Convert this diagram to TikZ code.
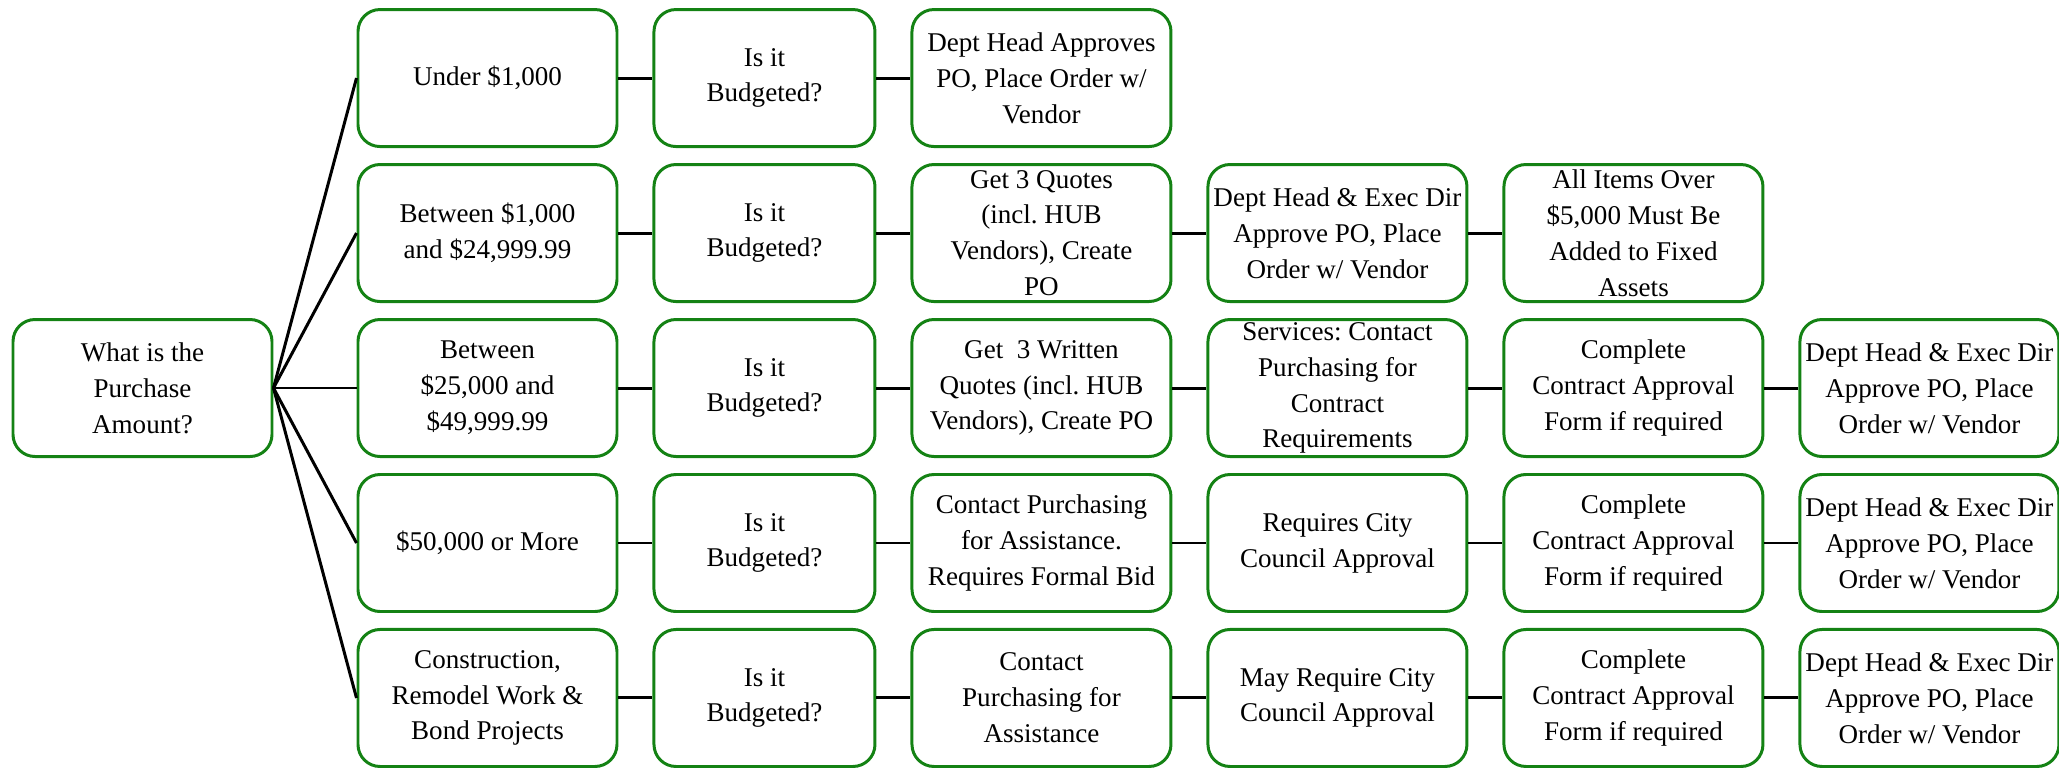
\documentclass[tikz,border=0pt]{standalone}
\usepackage{fontspec}
\setmainfont{Liberation Serif}
\usepackage{tikz}
\usetikzlibrary{positioning}
\definecolor{boxgreen}{RGB}{20,130,20}
\frenchspacing

\begin{document}
\begin{tikzpicture}[
    node distance=0.15cm and 0.34cm,  % gap between rows and between columns
    main/.style = {draw=boxgreen, line width=0.85pt, rounded corners=0.22cm,
                   minimum width=2.59cm, minimum height=1.37cm, inner sep=0pt,
                   align=center, font=\fontsize{7.7}{10.2}\selectfont},
    narrow/.style = {main, minimum width=2.21cm},
    link/.style = {line width=0.85pt},
    thinlink/.style = {line width=0.45pt}
  ]
    \useasboundingbox (0,0) rectangle (20.59,-7.70);
    \node[main] (amt) at (1.425,-3.88) {What is the\\Purchase\\Amount?};

    % amount ranges
    \node[main] (a3) [right=0.83cm of amt] {Between\\\$25,000 and\\\$49,999.99};
    \node[main] (a2) [above=of a3] {Between \$1,000\\and \$24,999.99};
    \node[main] (a1) [above=of a2] {Under \$1,000};
    \node[main] (a4) [below=of a3] {\$50,000 or More};
    \node[main] (a5) [below=of a4] {Construction,\\Remodel Work \&\\Bond Projects};

    % budget check
    \node[narrow] (b1) [right=of a1] {Is it\\Budgeted?};
    \node[narrow] (b2) [right=of a2] {Is it\\Budgeted?};
    \node[narrow] (b3) [right=of a3] {Is it\\Budgeted?};
    \node[narrow] (b4) [right=of a4] {Is it\\Budgeted?};
    \node[narrow] (b5) [right=of a5] {Is it\\Budgeted?};

    % row 1
    \node[main] (c1) [right=of b1] {Dept Head Approves\\PO, Place Order w/\\Vendor};
    % row 2
    \node[main] (c2) [right=of b2] {Get 3 Quotes\\(incl. HUB\\Vendors), Create\\PO};
    \node[main] (d2) [right=of c2] {Dept Head \& Exec Dir\\Approve PO, Place\\Order w/ Vendor};
    \node[main] (e2) [right=of d2] {All Items Over\\\$5,000 Must Be\\Added to Fixed\\Assets};
    % row 3
    \node[main] (c3) [right=of b3] {Get~ 3 Written\\Quotes (incl. HUB\\Vendors), Create PO};
    \node[main] (d3) [right=of c3] {Services: Contact\\Purchasing for\\Contract\\Requirements};
    \node[main] (e3) [right=of d3] {Complete\\Contract Approval\\Form if required};
    \node[main] (f3) [right=of e3] {Dept Head \& Exec Dir\\Approve PO, Place\\Order w/ Vendor};
    % row 4
    \node[main] (c4) [right=of b4] {Contact Purchasing\\for Assistance.\\Requires Formal Bid};
    \node[main] (d4) [right=of c4] {Requires City\\Council Approval};
    \node[main] (e4) [right=of d4] {Complete\\Contract Approval\\Form if required};
    \node[main] (f4) [right=of e4] {Dept Head \& Exec Dir\\Approve PO, Place\\Order w/ Vendor};
    % row 5
    \node[main] (c5) [right=of b5] {Contact\\Purchasing for\\Assistance};
    \node[main] (d5) [right=of c5] {May Require City\\Council Approval};
    \node[main] (e5) [right=of d5] {Complete\\Contract Approval\\Form if required};
    \node[main] (f5) [right=of e5] {Dept Head \& Exec Dir\\Approve PO, Place\\Order w/ Vendor};

    % fan out from the question
    \draw[link] (amt.east) -- (a1.west);
    \draw[link] (amt.east) -- (a2.west);
    \draw[thinlink] (amt.east) -- (a3.west);
    \draw[link] (amt.east) -- (a4.west);
    \draw[link] (amt.east) -- (a5.west);

    \draw[link] (a1) -- (b1) -- (c1);
    \draw[link] (a2) -- (b2) -- (c2) -- (d2) -- (e2);
    \draw[link] (a3) -- (b3) -- (c3) -- (d3) -- (e3) -- (f3);
    \draw[link] (a4) -- (b4) -- (c4) -- (d4) -- (e4) -- (f4);
    \draw[link] (a5) -- (b5) -- (c5) -- (d5) -- (e5) -- (f5);
  \end{tikzpicture}
\end{document}
